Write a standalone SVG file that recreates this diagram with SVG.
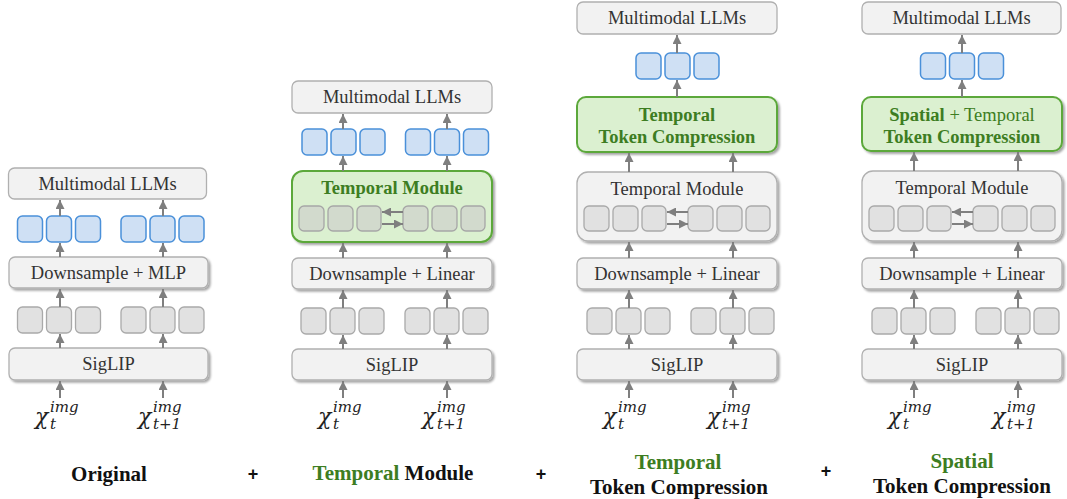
<svg xmlns="http://www.w3.org/2000/svg" width="1067" height="499" viewBox="0 0 1067 499">
<style>
.box{fill:#f2f2f2;stroke:#b0b0b0;stroke-width:1.3}
.gbox{fill:#dbf0d0;stroke:#5ba83a;stroke-width:2}
.tb{fill:#cfe0f4;stroke:#4a90d9;stroke-width:1.5}
.tg{fill:#e1e1e1;stroke:#a9a9a9;stroke-width:1.3}
.ti{fill:#d2dacd;stroke:#a6a6a6;stroke-width:1.3}
.ar{stroke:#7f7f7f;stroke-width:2;fill:none;marker-end:url(#ah)}
.t{font-family:"Liberation Serif",serif;font-size:18.5px;fill:#333;text-anchor:middle}
.gt{font-family:"Liberation Serif",serif;font-size:18.5px;fill:#3d7d22;text-anchor:middle}
.b{font-weight:bold}
.lab{font-family:"Liberation Serif",serif;font-size:21px;font-weight:bold;fill:#111;text-anchor:middle}
.grn{fill:#3d7d22}
.plus{font-family:"Liberation Sans",sans-serif;font-size:18px;font-weight:bold;fill:#111;text-anchor:middle}
.mx{font-family:"DejaVu Serif",serif;font-style:italic;font-size:22px;fill:#222}
.ms{font-size:15px}
</style>
<defs>
<marker id="ah" markerUnits="userSpaceOnUse" markerWidth="10" markerHeight="9" refX="9" refY="4.5" orient="auto">
<path d="M0,0 L9,4.5 L0,9 z" fill="#7f7f7f"/>
</marker>
<filter id="sh" x="-5%" y="-20%" width="115%" height="150%">
<feDropShadow dx="2" dy="2" stdDeviation="1.3" flood-color="#000" flood-opacity="0.35"/>
</filter>
<g id="gtok">
<rect class="tg" x="0" y="0" width="25" height="26" rx="5"/>
<rect class="tg" x="29" y="0" width="25" height="26" rx="5"/>
<rect class="tg" x="58" y="0" width="25" height="26" rx="5"/>
</g>
<g id="btok">
<rect class="tb" x="0" y="0" width="25" height="26" rx="5"/>
<rect class="tb" x="29" y="0" width="25" height="26" rx="5"/>
<rect class="tb" x="58" y="0" width="25" height="26" rx="5"/>
</g>
<g id="itok">
<rect class="ti" x="0" y="0" width="25" height="25" rx="5"/>
<rect class="ti" x="29" y="0" width="25" height="25" rx="5"/>
<rect class="ti" x="58" y="0" width="24" height="25" rx="5"/>
<rect class="ti" x="104" y="0" width="25" height="25" rx="5"/>
<rect class="ti" x="133" y="0" width="25" height="25" rx="5"/>
<rect class="ti" x="162" y="0" width="24" height="25" rx="5"/>
</g>
<g id="itokg">
<rect class="tg" x="0" y="0" width="25" height="25" rx="5"/>
<rect class="tg" x="29" y="0" width="25" height="25" rx="5"/>
<rect class="tg" x="58" y="0" width="24" height="25" rx="5"/>
<rect class="tg" x="104" y="0" width="25" height="25" rx="5"/>
<rect class="tg" x="133" y="0" width="25" height="25" rx="5"/>
<rect class="tg" x="162" y="0" width="24" height="25" rx="5"/>
</g>
</defs>

<!-- Panel 1: Original -->
<g id="p1-llm"><rect class="box" x="8.5" y="168" width="198" height="31" rx="6"/><text class="t" x="107.5" y="190">Multimodal LLMs</text></g>
<g id="p1-btok"><use href="#btok" x="17.5" y="216"/><use href="#btok" x="121" y="216"/></g>
<g id="p1-down"><rect class="box" x="9" y="257" width="199" height="31" rx="6" filter="url(#sh)"/><text class="t" x="108.5" y="279">Downsample + MLP</text></g>
<g id="p1-gtok"><use href="#gtok" x="17.5" y="307"/><use href="#gtok" x="121" y="307"/></g>
<g id="p1-siglip"><rect class="box" x="9" y="348" width="199" height="32" rx="6" filter="url(#sh)"/><text class="t" x="108.5" y="370">SigLIP</text></g>
<g id="p1-in1"><text class="mx" x="35" y="424">χ<tspan class="ms" x="50" y="412">img</tspan><tspan class="ms" x="50" y="429">t</tspan></text></g>
<g id="p1-in2"><text class="mx" x="138" y="424">χ<tspan class="ms" x="153" y="412">img</tspan><tspan class="ms" x="153" y="429">t+1</tspan></text></g>
<g id="p1-label"><text class="lab" x="109" y="481">Original</text></g>

<!-- Panel 2: Temporal Module -->
<g id="p2-llm"><rect class="box" x="292" y="81" width="200" height="32" rx="6"/><text class="t" x="392" y="103">Multimodal LLMs</text></g>
<g id="p2-btok"><use href="#btok" x="302" y="129"/><use href="#btok" x="405.5" y="129"/></g>
<g id="p2-tm"><rect class="gbox" x="292" y="171" width="200" height="71" rx="11" filter="url(#sh)"/><text class="gt b" x="392" y="194">Temporal Module</text><use href="#itok" x="299" y="206"/></g>
<g id="p2-down"><rect class="box" x="292" y="258" width="200" height="31" rx="6" filter="url(#sh)"/><text class="t" x="392" y="280">Downsample + Linear</text></g>
<g id="p2-gtok"><use href="#gtok" x="301" y="308"/><use href="#gtok" x="405" y="308"/></g>
<g id="p2-siglip"><rect class="box" x="292" y="349" width="200" height="31" rx="6" filter="url(#sh)"/><text class="t" x="392" y="371">SigLIP</text></g>
<g id="p2-in1"><text class="mx" x="318" y="424">χ<tspan class="ms" x="333" y="412">img</tspan><tspan class="ms" x="333" y="429">t</tspan></text></g>
<g id="p2-in2"><text class="mx" x="422" y="424">χ<tspan class="ms" x="437" y="412">img</tspan><tspan class="ms" x="437" y="429">t+1</tspan></text></g>
<g id="p2-label"><text class="lab" x="393" y="480"><tspan class="grn">Temporal</tspan> Module</text></g>

<!-- Panel 3: Temporal Token Compression -->
<g id="p3-llm"><rect class="box" x="577" y="2" width="200" height="32" rx="6"/><text class="t" x="677" y="24">Multimodal LLMs</text></g>
<g id="p3-btok"><use href="#btok" x="636" y="53"/></g>
<g id="p3-ttc"><rect class="gbox" x="577" y="97" width="200" height="55" rx="9" filter="url(#sh)"/><text class="gt b" x="677" y="121">Temporal</text><text class="gt b" x="677" y="143">Token Compression</text></g>
<g id="p3-tm"><rect class="box" x="577" y="172" width="200" height="69" rx="11" filter="url(#sh)"/><text class="t" x="677" y="195">Temporal Module</text><use href="#itokg" x="584" y="206"/></g>
<g id="p3-down"><rect class="box" x="577" y="258" width="200" height="31" rx="6" filter="url(#sh)"/><text class="t" x="677" y="280">Downsample + Linear</text></g>
<g id="p3-gtok"><use href="#gtok" x="587" y="308"/><use href="#gtok" x="691" y="308"/></g>
<g id="p3-siglip"><rect class="box" x="577" y="349" width="200" height="31" rx="6" filter="url(#sh)"/><text class="t" x="677" y="371">SigLIP</text></g>
<g id="p3-in1"><text class="mx" x="603" y="424">χ<tspan class="ms" x="618" y="412">img</tspan><tspan class="ms" x="618" y="429">t</tspan></text></g>
<g id="p3-in2"><text class="mx" x="707" y="424">χ<tspan class="ms" x="722" y="412">img</tspan><tspan class="ms" x="722" y="429">t+1</tspan></text></g>
<g id="p3-label"><text class="lab grn" x="678" y="469">Temporal</text><text class="lab" x="679" y="494">Token Compression</text></g>

<!-- Panel 4: Spatial + Temporal Token Compression -->
<g id="p4-llm"><rect class="box" x="862" y="2" width="199" height="32" rx="6"/><text class="t" x="961.5" y="24">Multimodal LLMs</text></g>
<g id="p4-btok"><use href="#btok" x="920.5" y="53"/></g>
<g id="p4-sttc"><rect class="gbox" x="862" y="97" width="200" height="54" rx="9" filter="url(#sh)"/><text class="gt" x="962" y="121"><tspan class="b">Spatial</tspan> + Temporal</text><text class="gt b" x="962" y="143">Token Compression</text></g>
<g id="p4-tm"><rect class="box" x="862" y="171" width="200" height="70" rx="11" filter="url(#sh)"/><text class="t" x="962" y="194">Temporal Module</text><use href="#itokg" x="869" y="206"/></g>
<g id="p4-down"><rect class="box" x="862" y="258" width="200" height="31" rx="6" filter="url(#sh)"/><text class="t" x="962" y="280">Downsample + Linear</text></g>
<g id="p4-gtok"><use href="#gtok" x="872" y="308"/><use href="#gtok" x="976" y="308"/></g>
<g id="p4-siglip"><rect class="box" x="862" y="349" width="200" height="31" rx="6" filter="url(#sh)"/><text class="t" x="962" y="371">SigLIP</text></g>
<g id="p4-in1"><text class="mx" x="888" y="424">χ<tspan class="ms" x="903" y="412">img</tspan><tspan class="ms" x="903" y="429">t</tspan></text></g>
<g id="p4-in2"><text class="mx" x="992" y="424">χ<tspan class="ms" x="1007" y="412">img</tspan><tspan class="ms" x="1007" y="429">t+1</tspan></text></g>
<g id="p4-label"><text class="lab grn" x="962" y="468">Spatial</text><text class="lab" x="962" y="493">Token Compression</text></g>

<g id="plus">
<text class="plus" x="253" y="480">+</text>
<text class="plus" x="541" y="480">+</text>
<text class="plus" x="826" y="477">+</text>
</g>

<g id="connectors">
<!-- panel 1 -->
<path class="ar" d="M60,398 V381"/><path class="ar" d="M163,398 V381"/>
<path class="ar" d="M60,348 V334"/><path class="ar" d="M163,348 V334"/>
<path class="ar" d="M60,307 V289"/><path class="ar" d="M163,307 V289"/>
<path class="ar" d="M60,257 V243"/><path class="ar" d="M163,257 V243"/>
<path class="ar" d="M60,216 V200"/><path class="ar" d="M163,216 V200"/>
<!-- panel 2 -->
<path class="ar" d="M343,398 V381"/><path class="ar" d="M447,398 V381"/>
<path class="ar" d="M343,349 V335"/><path class="ar" d="M447,349 V335"/>
<path class="ar" d="M343,308 V290"/><path class="ar" d="M447,308 V290"/>
<path class="ar" d="M343,258 V243"/><path class="ar" d="M447,258 V243"/>
<path class="ar" d="M343,171 V156"/><path class="ar" d="M447,171 V156"/>
<path class="ar" d="M343,129 V114"/><path class="ar" d="M447,129 V114"/>
<path class="ar" d="M403,212 H382"/><path class="ar" d="M382,224 H403"/>
<!-- panel 3 -->
<path class="ar" d="M629,398 V381"/><path class="ar" d="M733,398 V381"/>
<path class="ar" d="M629,349 V335"/><path class="ar" d="M733,349 V335"/>
<path class="ar" d="M629,308 V290"/><path class="ar" d="M733,308 V290"/>
<path class="ar" d="M629,258 V242"/><path class="ar" d="M733,258 V242"/>
<path class="ar" d="M629,172 V153"/><path class="ar" d="M733,172 V153"/>
<path class="ar" d="M677,97 V80"/>
<path class="ar" d="M677,53 V35"/>
<path class="ar" d="M688,212 H667"/><path class="ar" d="M667,224 H688"/>
<!-- panel 4 -->
<path class="ar" d="M914,398 V381"/><path class="ar" d="M1018,398 V381"/>
<path class="ar" d="M914,349 V335"/><path class="ar" d="M1018,349 V335"/>
<path class="ar" d="M914,308 V290"/><path class="ar" d="M1018,308 V290"/>
<path class="ar" d="M914,258 V242"/><path class="ar" d="M1018,258 V242"/>
<path class="ar" d="M914,171 V152"/><path class="ar" d="M1018,171 V152"/>
<path class="ar" d="M962,97 V80"/>
<path class="ar" d="M962,53 V35"/>
<path class="ar" d="M973,212 H952"/><path class="ar" d="M952,224 H973"/>
</g>
</svg>
